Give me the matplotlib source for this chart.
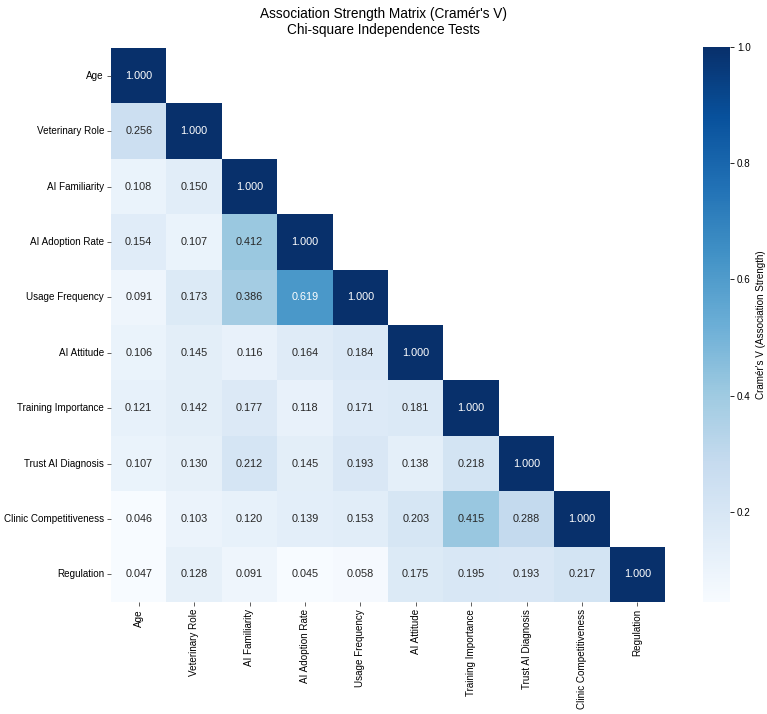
import numpy as np
import pandas as pd
import seaborn as sns
from matplotlib import pyplot as plt

variables = [
    "Age", "Veterinary Role", "AI Familiarity", "AI Adoption Rate",
    "Usage Frequency", "AI Attitude", "Training Importance",
    "Trust AI Diagnosis", "Clinic Competitiveness", "Regulation",
]

# lower triangle of the Cramér's V matrix, row by row
cramers_rows = [
    [1.000],
    [0.256, 1.000],
    [0.108, 0.150, 1.000],
    [0.154, 0.107, 0.412, 1.000],
    [0.091, 0.173, 0.386, 0.619, 1.000],
    [0.106, 0.145, 0.116, 0.164, 0.184, 1.000],
    [0.121, 0.142, 0.177, 0.118, 0.171, 0.181, 1.000],
    [0.107, 0.130, 0.212, 0.145, 0.193, 0.138, 0.218, 1.000],
    [0.046, 0.103, 0.120, 0.139, 0.153, 0.203, 0.415, 0.288, 1.000],
    [0.047, 0.128, 0.091, 0.045, 0.058, 0.175, 0.195, 0.193, 0.217, 1.000],
]

title = "Association Strength Matrix (Cramér's V)\nChi-square Independence Tests"
cbar_label = "Cramér's V (Association Strength)"


def build_matrix(rows):
    n = len(rows)
    matrix = np.zeros((n, n))
    for i, row in enumerate(rows):
        for j, value in enumerate(row):
            matrix[i, j] = value
            matrix[j, i] = value
    return pd.DataFrame(matrix, index=variables, columns=variables)


plt.rcParams['font.family'] = ['Liberation Sans', 'DejaVu Sans']

matrix = build_matrix(cramers_rows)
mask = np.triu(np.ones_like(matrix, dtype=bool), k=1)

W, H = 767, 714
fig = plt.figure(figsize=(W / 100, H / 100), dpi=100)
ax = fig.add_axes([111 / W, 1 - 602 / H, 554 / W, 554 / H])
cax = fig.add_axes([703 / W, 1 - 602 / H, 27 / W, 555 / H])

sns.heatmap(
    matrix, mask=mask, cmap="Blues", annot=True, fmt=".3f",
    annot_kws={"size": 7.8}, linewidths=0,
    ax=ax, cbar_ax=cax, cbar_kws={"label": cbar_label},
)

ax.tick_params(axis="both", labelsize=7.1, length=3, width=0.6,
               color="#444444", pad=2)
plt.setp(ax.get_xticklabels(), rotation=90)
plt.setp(ax.get_yticklabels(), rotation=0)

cax.tick_params(labelsize=7.1, length=3, width=0.6, pad=2)
cax.yaxis.label.set_size(7.1)
cax.yaxis.labelpad = 4
for spine in cax.spines.values():
    spine.set_visible(False)

fig.text(0.5, 1 - 22 / H, title, ha="center", va="center", fontsize=9.8,
         linespacing=1.25)

fig.savefig("out.png", dpi=100)
